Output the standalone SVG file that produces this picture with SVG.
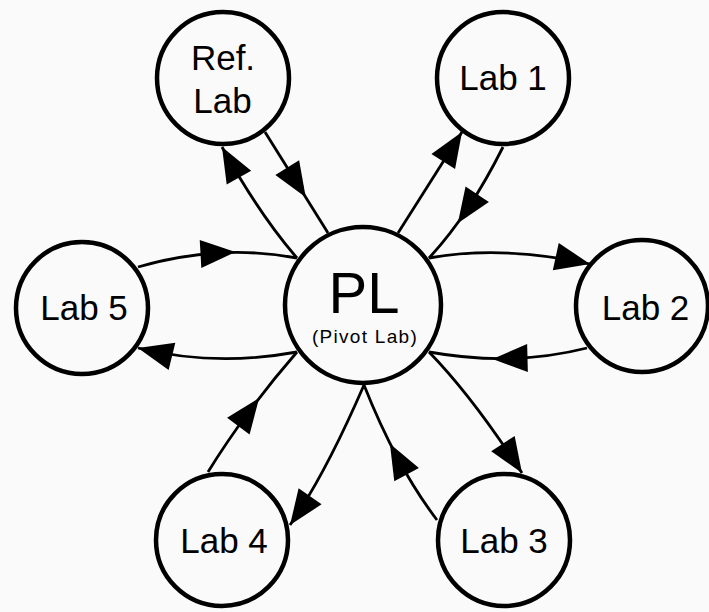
<svg xmlns="http://www.w3.org/2000/svg" width="709" height="612" viewBox="0 0 709 612">
<style>
.node circle{fill:#fafafa;stroke:#000;stroke-width:4.5}
.lbl{font-family:"Liberation Sans",Arial,sans-serif;font-size:35px;fill:#000;text-anchor:middle}
.conn path{fill:none;stroke:#000;stroke-width:2.8}
.out{marker-end:url(#ahEnd)}
.in{marker-mid:url(#ahMid)}
</style>
<defs>
<marker id="ahEnd" markerUnits="userSpaceOnUse" markerWidth="36" markerHeight="29" refX="35" refY="14" orient="auto" overflow="visible"><path d="M0,0 L35,14 L0,28 Z" fill="#000"/></marker>
<marker id="ahMid" markerUnits="userSpaceOnUse" markerWidth="36" markerHeight="29" refX="17.5" refY="14" orient="auto" overflow="visible"><path d="M0,0 L35,14 L0,28 Z" fill="#000"/></marker>
</defs>
<rect width="709" height="612" fill="#fafafa"/>
<g id="connectors" class="conn">
<path class="out" d="M297,258 Q259,214 222,147"/>
<path class="in" d="M265,132 L296.5,182.5 L328,233"/>
<path class="out" d="M398,233 L462,132"/>
<path class="in" d="M503,147 Q486,181 467.5,208.75 Q449,236.5 429,258"/>
<path class="out" d="M429,258 Q502,245 590,264"/>
<path class="in" d="M587,348 Q549.5,357.5 510,358.5 Q470.5,359.5 429,352"/>
<path class="out" d="M429,352 Q472,396 522,473"/>
<path class="in" d="M437,520 Q416.5,493 398.25,459.25 Q380,425.5 364,385"/>
<path class="out" d="M364,385 Q325,475 290,525"/>
<path class="in" d="M208,472 Q226.5,442 248.75,412 Q271,382 297,352"/>
<path class="out" d="M297,352 Q215,367 138,348"/>
<path class="in" d="M138,267 Q178,255.25 218,253 Q258,250.75 297,258"/>
</g>
<g id="pl" class="node"><circle cx="363" cy="305" r="78"/>
<text class="lbl" x="364" y="313" style="font-size:58px">PL</text>
<text class="lbl" x="365" y="343" style="font-size:19px;letter-spacing:1.3px">(Pivot Lab)</text></g>
<g id="reflab" class="node"><circle cx="223" cy="78" r="66"/>
<text class="lbl" x="223" y="70">Ref.</text><text class="lbl" x="222.5" y="113">Lab</text></g>
<g id="lab1" class="node"><circle cx="503" cy="78" r="66"/><text class="lbl" x="503" y="90">Lab 1</text></g>
<g id="lab2" class="node"><circle cx="642" cy="306" r="66"/><text class="lbl" x="645.5" y="320">Lab 2</text></g>
<g id="lab3" class="node"><circle cx="504" cy="540" r="66"/><text class="lbl" x="504" y="553">Lab 3</text></g>
<g id="lab4" class="node"><circle cx="222" cy="540" r="66"/><text class="lbl" x="224" y="553">Lab 4</text></g>
<g id="lab5" class="node"><circle cx="82" cy="308" r="66"/><text class="lbl" x="84" y="320">Lab 5</text></g>
</svg>
